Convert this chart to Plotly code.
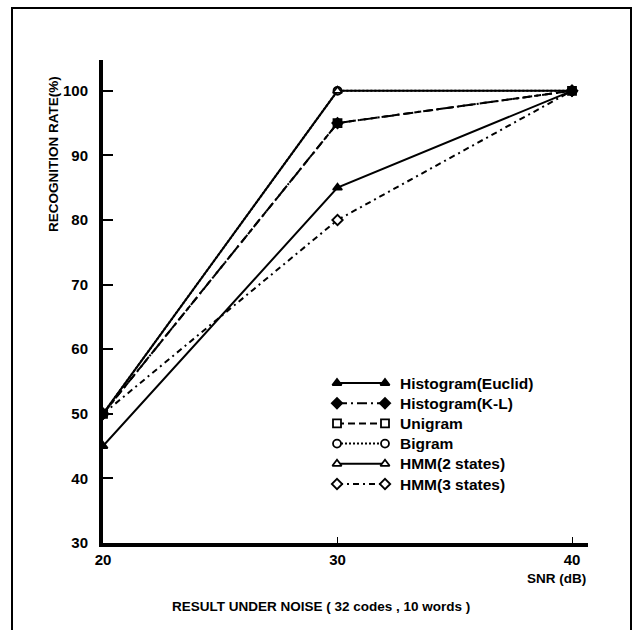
import plotly.graph_objects as go

# ---- data ----
snr = [20, 30, 40]
series_names = ["Histogram(Euclid)", "Histogram(K-L)", "Unigram", "Bigram",
                "HMM(2 states)", "HMM(3 states)"]
euclid = [45, 85, 100]
kl = [50, 95, 100]
unigram = [50, 95, 100]
bigram = [50, 100, 100]
hmm2 = [50, 100, 100]
hmm3 = [50, 80, 100]
y_ticks = [30, 40, 50, 60, 70, 80, 90, 100]
x_ticks = [20, 30, 40]

values = [euclid, kl, unigram, bigram, hmm2, hmm3]
styles = [
    dict(dash="solid", symbol="triangle-up", fill="black"),
    dict(dash="10px,4px,2px,4px", symbol="diamond", fill="black"),
    dict(dash="7px,4px", symbol="square", fill="white"),
    dict(dash="2px,2px", symbol="circle", fill="white"),
    dict(dash="solid", symbol="triangle-up", fill="white"),
    dict(dash="6px,4px,2px,4px", symbol="diamond", fill="white"),
]
draw_order = [2, 3, 4, 5, 0, 1]  # filled markers on top

W, H = 639, 630
L, R, T, B = 103, 51, 60, 87
FONT = "Liberation Sans, Arial, Helvetica, sans-serif"

fig = go.Figure()

for i in draw_order:
    name, vals, st = series_names[i], values[i], styles[i]
    fig.add_trace(go.Scatter(
        x=snr, y=vals, mode="lines+markers", name=name, showlegend=False,
        line=dict(color="black", width=2, dash=st["dash"]),
        marker=dict(symbol=st["symbol"], size=8, color=st["fill"],
                    line=dict(color="black", width=1.8)),
    ))

# ---- custom legend (pixel coordinates on an overlay axis) ----
leg_x0, leg_x1, leg_text_x = 337, 385, 398
leg_y0, leg_dy = 383, 20.2
for i, (name, st) in enumerate(zip(series_names, styles)):
    yy = leg_y0 + i * leg_dy
    fig.add_trace(go.Scatter(
        x=[leg_x0, leg_x1], y=[yy, yy], xaxis="x2", yaxis="y2",
        mode="lines+markers", showlegend=False, hoverinfo="skip",
        line=dict(color="black", width=2, dash=st["dash"]),
        marker=dict(symbol=st["symbol"], size=8, color=st["fill"],
                    line=dict(color="black", width=1.8)),
    ))
    fig.add_annotation(x=leg_text_x, y=yy, xref="x2", yref="y2", text=name,
                       showarrow=False, xanchor="left", yanchor="middle",
                       font=dict(family=FONT, size=15.5, color="black", weight="bold"))

pw, ph = W - L - R, H - T - B

fig.update_layout(
    width=W, height=H,
    margin=dict(l=L, r=R, t=T, b=B, pad=0),
    paper_bgcolor="white", plot_bgcolor="white",
    font=dict(family=FONT, color="black"),
    xaxis=dict(range=[20, 20 + (588 - 103) / 23.45], tickvals=x_ticks,
               showgrid=False, zeroline=False, showline=True, linecolor="black",
               linewidth=4, ticks="inside", ticklen=6, tickwidth=1.2, tickcolor="black",
               tickfont=dict(family=FONT, size=15, color="black", weight="bold")),
    yaxis=dict(range=[30, 30 + (543 - 60) / 6.46], tickvals=y_ticks,
               showgrid=False, zeroline=False, showline=True, linecolor="black",
               linewidth=4, ticks="inside", ticklen=10, tickwidth=2, tickcolor="black",
               ticklabelstandoff=8,
               tickfont=dict(family=FONT, size=15, color="black", weight="bold")),
    xaxis2=dict(range=[L, W - R], overlaying="x", visible=False, fixedrange=True),
    yaxis2=dict(range=[H - B, T], overlaying="y", visible=False, fixedrange=True),
    showlegend=False,
)

# y-axis title
fig.add_annotation(x=(53 - L) / pw, y=(H - B - 154) / ph, xref="paper", yref="paper",
                   text="RECOGNITION RATE(%)", textangle=-90, showarrow=False,
                   xanchor="center", yanchor="middle",
                   font=dict(family=FONT, size=13.5, color="black", weight="bold"))
# x-axis title
fig.add_annotation(x=1.0, y=(H - B - 578) / ph, xref="paper", yref="paper",
                   text="SNR (dB)", showarrow=False, xanchor="right", yanchor="middle",
                   font=dict(family=FONT, size=13.5, color="black", weight="bold"))
# caption
fig.add_annotation(x=(321 - L) / pw, y=(H - B - 606) / ph, xref="paper", yref="paper",
                   text="RESULT UNDER NOISE ( 32 codes , 10 words )", showarrow=False,
                   xanchor="center", yanchor="middle",
                   font=dict(family=FONT, size=13.5, color="black", weight="bold"))

# outer frame
fig.add_shape(type="rect", xref="paper", yref="paper",
              x0=(12 - L) / pw, x1=(631 - L) / pw,
              y0=(H - B - 640) / ph, y1=(H - B - 8) / ph,
              line=dict(color="black", width=2), layer="below")

fig.write_html("out.html")
